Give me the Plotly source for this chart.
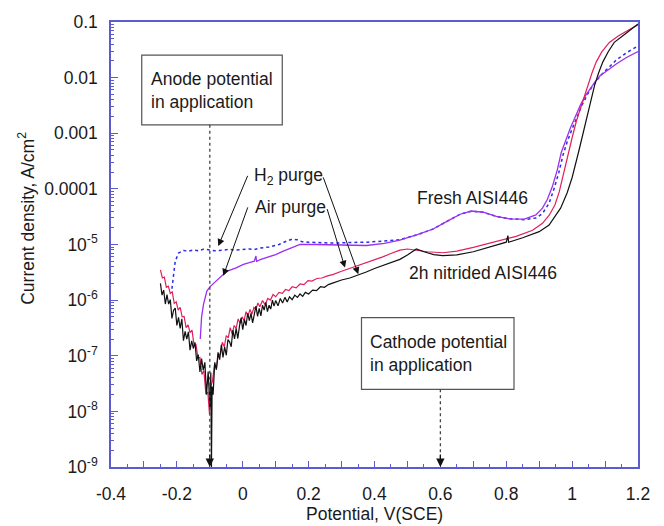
import plotly.graph_objects as go

# ---------------- data ----------------
# Fresh AISI446, H2 purge (blue dotted)
fresh_h2_x = [-0.215, -0.21, -0.205, -0.195, -0.18, -0.165, -0.15, -0.135, -0.12, -0.1, -0.085,
              -0.07, -0.055, -0.04, -0.025, -0.01, 0.005, 0.02, 0.035, 0.05, 0.065, 0.08, 0.095,
              0.11, 0.125, 0.135, 0.15, 0.165, 0.18, 0.2, 0.22, 0.25, 0.275, 0.3, 0.33, 0.355,
              0.38, 0.405, 0.43, 0.455, 0.477, 0.53, 0.578, 0.62, 0.66, 0.694, 0.73, 0.77, 0.81,
              0.855, 0.89, 0.91, 0.93, 0.945, 0.96, 0.972, 0.985, 1.0, 1.015, 1.03, 1.045, 1.06,
              1.075, 1.09, 1.11, 1.135, 1.165, 1.2]
fresh_h2_y = [1.6e-6, 3.0e-6, 5.0e-6, 7.0e-6, 7.8e-6, 7.6e-6, 8.0e-6, 7.7e-6, 8.2e-6, 8.0e-6, 7.7e-6,
              7.8e-6, 8.1e-6, 8.2e-6, 7.9e-6, 8.0e-6, 8.2e-6, 8.3e-6, 8.1e-6, 8.6e-6, 8.8e-6, 9.0e-6, 9.5e-6,
              1.0e-5, 1.1e-5, 1.15e-5, 1.25e-5, 1.22e-5, 1.12e-5, 1.1e-5, 1.08e-5, 1.07e-5, 1.06e-5, 1.08e-5, 1.08e-5, 1.1e-5,
              1.1e-5, 1.13e-5, 1.15e-5, 1.18e-5, 1.22e-5, 1.5e-5, 1.9e-5, 2.6e-5, 3.5e-5, 3.95e-5, 3.8e-5, 3.2e-5, 2.9e-5,
              2.8e-5, 3.0e-5, 3.6e-5, 5.5e-5, 1.0e-4, 2.0e-4, 4.0e-4, 7.0e-4, 1.2e-3, 2.0e-3, 3.2e-3, 4.8e-3, 6.8e-3,
              9.0e-3, 1.15e-2, 1.5e-2, 2.1e-2, 2.8e-2, 3.7e-2]

# Fresh AISI446, air purge (purple)
fresh_air_x = [-0.129, -0.125, -0.119, -0.109, -0.099, -0.089, -0.07, -0.049, -0.02, 0.002, 0.02,
               0.035, 0.04, 0.042, 0.055, 0.073, 0.1, 0.123, 0.15, 0.174, 0.22, 0.275, 0.33, 0.376,
               0.43, 0.477, 0.53, 0.578, 0.62, 0.66, 0.694, 0.73, 0.77, 0.81, 0.855, 0.89, 0.91,
               0.925, 0.94, 0.955, 0.967, 0.98, 0.995, 1.01, 1.025, 1.04, 1.055, 1.07, 1.085, 1.11,
               1.135, 1.165, 1.2]
fresh_air_y = [2.0e-7, 5.0e-7, 8.5e-7, 1.45e-6, 1.75e-6, 2.0e-6, 2.5e-6, 3.3e-6, 3.8e-6, 4.4e-6, 4.7e-6,
               5.0e-6, 6.2e-6, 5.0e-6, 5.4e-6, 5.8e-6, 6.6e-6, 7.6e-6, 8.8e-6, 1.0e-5, 1.0e-5, 9.8e-6, 9.6e-6, 9.6e-6,
               1.05e-5, 1.2e-5, 1.5e-5, 1.9e-5, 2.6e-5, 3.5e-5, 4.0e-5, 3.8e-5, 3.2e-5, 2.9e-5, 2.85e-5, 3.4e-5, 4.5e-5,
               6.5e-5, 1.1e-4, 2.2e-4, 4.5e-4, 7.5e-4, 1.25e-3, 2.0e-3, 3.2e-3, 4.7e-3, 6.5e-3, 8.5e-3, 1.08e-2, 1.4e-2,
               1.78e-2, 2.3e-2, 2.95e-2]

# 2h nitrided AISI446, air purge (red)
nitr_air_x = [-0.25, -0.244, -0.238, -0.232, -0.226, -0.22, -0.214, -0.208, -0.202, -0.196, -0.19,
              -0.184, -0.178, -0.172, -0.166, -0.16, -0.154, -0.148, -0.142, -0.136, -0.13, -0.124,
              -0.118, -0.112, -0.106, -0.101, -0.097, -0.092, -0.086, -0.08, -0.074, -0.068, -0.062,
              -0.056, -0.05, -0.044, -0.038, -0.032, -0.026, -0.02, -0.014, -0.008, -0.002, 0.004,
              0.01, 0.016, 0.022, 0.028, 0.034, 0.04, 0.046, 0.052, 0.06, 0.068, 0.076, 0.084, 0.092,
              0.1, 0.11, 0.12, 0.13, 0.14, 0.15, 0.162, 0.174, 0.186, 0.198, 0.21, 0.225, 0.24, 0.255,
              0.275, 0.3, 0.325, 0.35, 0.375, 0.4, 0.425, 0.45, 0.477, 0.5, 0.53, 0.56, 0.608, 0.65,
              0.7, 0.75, 0.78, 0.83, 0.88, 0.91, 0.931, 0.948, 0.961, 0.975, 0.988, 1.0, 1.013, 1.03,
              1.047, 1.06, 1.073, 1.09, 1.113, 1.14, 1.17, 1.2]
nitr_air_y = [3.5e-6, 2.5e-6, 2.6e-6, 1.7e-6, 1.78e-6, 1.32e-6, 1.41e-6, 8.7e-7, 9.3e-7, 6.6e-7, 7.4e-7,
              5.0e-7, 5.1e-7, 3.2e-7, 3.6e-7, 2.6e-7, 2.9e-7, 1.55e-7, 1.58e-7, 9.1e-8, 9.3e-8, 4.6e-8,
              5.4e-8, 2.1e-8, 2.2e-8, 8.9e-9, 2.8e-8, 3.5e-8, 6.8e-8, 5.9e-8, 1.07e-7, 1.05e-7, 1.74e-7,
              1.45e-7, 2.3e-7, 2.1e-7, 3.2e-7, 2.45e-7, 3.5e-7, 3.1e-7, 4.6e-7, 3.8e-7, 5.0e-7, 4.3e-7,
              6.2e-7, 5.2e-7, 6.8e-7, 5.6e-7, 7.4e-7, 6.8e-7, 8.9e-7, 7.6e-7, 9.8e-7, 8.3e-7, 1.07e-6, 1.0e-6, 1.26e-6,
              1.15e-6, 1.38e-6, 1.32e-6, 1.55e-6, 1.48e-6, 1.74e-6, 1.66e-6, 1.95e-6, 1.9e-6, 2.24e-6, 2.2e-6, 2.45e-6, 2.5e-6, 2.7e-6,
              2.9e-6, 3.3e-6, 3.7e-6, 4.2e-6, 4.7e-6, 5.2e-6, 6.0e-6, 6.9e-6, 7.9e-6, 8.3e-6, 7.9e-6, 7.4e-6, 7.1e-6, 7.6e-6,
              8.9e-6, 1.05e-5, 1.15e-5, 1.4e-5, 1.8e-5, 2.4e-5, 3.4e-5, 5.2e-5, 8.9e-5, 2.0e-4, 4.7e-4, 8.3e-4, 1.66e-3, 3.5e-3,
              7.2e-3, 1.2e-2, 1.9e-2, 2.9e-2, 4.3e-2, 5.6e-2, 7.1e-2, 8.9e-2]

# 2h nitrided AISI446, H2 purge (black)
nitr_h2_x = [-0.25, -0.245, -0.24, -0.235, -0.23, -0.225, -0.22, -0.215, -0.21, -0.205, -0.2,
             -0.195, -0.19, -0.185, -0.18, -0.175, -0.17, -0.165, -0.16, -0.155, -0.15, -0.145,
             -0.14, -0.135, -0.13, -0.125, -0.12, -0.115, -0.11, -0.105, -0.1, -0.097, -0.095,
             -0.093, -0.09, -0.085, -0.08, -0.075, -0.07, -0.065, -0.06, -0.055, -0.05, -0.045,
             -0.04, -0.035, -0.03, -0.025, -0.02, -0.015, -0.01, -0.005, 0.0, 0.005, 0.01, 0.015,
             0.02, 0.025, 0.03, 0.035, 0.04, 0.045, 0.05, 0.055, 0.06, 0.065, 0.07, 0.075, 0.08,
             0.085, 0.09, 0.095, 0.1, 0.107, 0.114, 0.121, 0.128, 0.135, 0.142, 0.15, 0.158, 0.166,
             0.174, 0.182, 0.19, 0.2, 0.212, 0.224, 0.236, 0.248, 0.26, 0.275, 0.3, 0.325, 0.35,
             0.375, 0.4, 0.425, 0.45, 0.477, 0.5, 0.527, 0.55, 0.58, 0.607, 0.65, 0.7, 0.75, 0.8,
             0.805, 0.807, 0.85, 0.9, 0.93, 0.965, 0.985, 1.0, 1.02, 1.043, 1.055, 1.068, 1.08,
             1.093, 1.11, 1.128, 1.16, 1.2]
nitr_h2_y = [2.0e-6, 1.23e-6, 1.51e-6, 8.5e-7, 1.26e-6, 8.5e-7, 1.02e-6, 4.7e-7, 6.6e-7, 7.2e-7, 3.5e-7,
             4.9e-7, 3.1e-7, 4.6e-7, 1.86e-7, 2.75e-7, 2.0e-7, 2.7e-7, 1.26e-7, 1.86e-7, 1.35e-7, 1.74e-7,
             8.1e-8, 1.05e-7, 5.1e-8, 8.9e-8, 5.5e-8, 7.6e-8, 2.0e-8, 5.2e-8, 1.2e-8, 5.0e-8, 1.0e-9,
             2.8e-8, 2.0e-8, 7.6e-8, 5.6e-8, 1.15e-7, 8.5e-8, 1.58e-7, 9.3e-8, 1.45e-7, 1.02e-7, 1.95e-7,
             1.78e-7, 1.45e-7, 2.9e-7, 2.0e-7, 3.1e-7, 2.04e-7, 3.4e-7, 4.8e-7, 2.95e-7, 4.5e-7, 3.5e-7, 5.8e-7,
             4.3e-7, 5.8e-7, 3.9e-7, 5.9e-7, 7.8e-7, 5.1e-7, 7.1e-7, 5.2e-7, 8.1e-7, 6.6e-7, 9.1e-7, 6.2e-7, 8.1e-7,
             6.9e-7, 1.0e-6, 7.8e-7, 9.8e-7, 7.9e-7, 1.07e-6, 8.9e-7, 1.12e-6, 9.3e-7, 1.15e-6, 1.02e-6, 1.23e-6, 1.12e-6,
             1.29e-6, 1.17e-6, 1.38e-6, 1.29e-6, 1.51e-6, 1.48e-6, 1.74e-6, 1.7e-6, 1.9e-6, 2.04e-6, 2.3e-6, 2.5e-6, 2.8e-6,
             3.2e-6, 3.7e-6, 4.2e-6, 4.8e-6, 5.4e-6, 6.5e-6, 8.3e-6, 7.4e-6, 6.6e-6, 6.3e-6, 6.5e-6, 7.4e-6, 8.9e-6, 1.1e-5,
             1.45e-5, 1.1e-5, 1.32e-5, 1.7e-5, 2.24e-5, 4.5e-5, 8.5e-5, 1.6e-4, 4.7e-4, 1.8e-3, 3.8e-3, 7.2e-3, 1.2e-2,
             1.9e-2, 2.95e-2, 4.3e-2, 6.0e-2, 9.2e-2]

x_tick_vals = [-0.4, -0.3, -0.2, -0.1, 0.0, 0.1, 0.2, 0.3, 0.4, 0.5, 0.6, 0.7, 0.8, 0.9, 1.0, 1.1, 1.2]
x_tick_text = ["-0.4", "", "-0.2", "", "0", "", "0.2", "", "0.4", "", "0.6", "", "0.8", "", "1", "", "1.2"]
x_minor_vals = [-0.35, -0.25, -0.15, -0.05, 0.05, 0.15, 0.25, 0.35, 0.45, 0.55, 0.65, 0.75, 0.85, 0.95, 1.05, 1.15]
y_tick_vals = [1e-9, 1e-8, 1e-7, 1e-6, 1e-5, 1e-4, 1e-3, 1e-2, 1e-1]
y_tick_text = ["10<sup>-9</sup>", "10<sup>-8</sup>", "10<sup>-7</sup>", "10<sup>-6</sup>", "10<sup>-5</sup>",
               "0.0001", "0.001", "0.01", "0.1"]

# ---------------- figure ----------------
FONT = "Liberation Sans, Arial, Helvetica, sans-serif"
FS = 17.5
AXIS_COLOR = "#5c5cd0"
y_minor_vals = [m * d for d in y_tick_vals[:-1] for m in range(2, 10)]

fig = go.Figure()
fig.add_trace(go.Scatter(x=fresh_h2_x, y=fresh_h2_y, mode="lines",
                         line=dict(color="#2b2be6", width=1.5, dash="dot"), name="Fresh, H2 purge"))
fig.add_trace(go.Scatter(x=fresh_air_x, y=fresh_air_y, mode="lines",
                         line=dict(color="#9b30f0", width=1.3), name="Fresh, air purge"))
fig.add_trace(go.Scatter(x=nitr_air_x, y=nitr_air_y, mode="lines",
                         line=dict(color="#e0205a", width=1.2), name="Nitrided, air purge"))
fig.add_trace(go.Scatter(x=nitr_h2_x, y=nitr_h2_y, mode="lines",
                         line=dict(color="#111111", width=1.2), name="Nitrided, H2 purge"))

fig.update_layout(
    width=664, height=526,
    margin=dict(l=111, r=26, t=20, b=59),
    paper_bgcolor="white", plot_bgcolor="white",
    showlegend=False,
    font=dict(family=FONT, size=FS, color="#1a1a1a"),
)
fig.update_xaxes(
    range=[-0.4, 1.2], tickmode="array", tickvals=x_tick_vals, ticktext=x_tick_text,
    ticks="inside", ticklen=6, tickwidth=1, tickcolor=AXIS_COLOR,
    minor=dict(tickmode="array", tickvals=x_minor_vals, ticks="inside", ticklen=3,
               tickcolor=AXIS_COLOR, showgrid=False),
    showline=True, linecolor=AXIS_COLOR, linewidth=1.5, mirror=True,
    showgrid=False, zeroline=False, ticklabelstandoff=10,
    tickfont=dict(family=FONT, size=FS, color="#1a1a1a"),
)
fig.update_yaxes(
    type="log", range=[-9, -1], tickmode="array", tickvals=y_tick_vals, ticktext=y_tick_text,
    ticks="inside", ticklen=7, tickwidth=1, tickcolor=AXIS_COLOR,
    minor=dict(tickmode="array", tickvals=y_minor_vals, ticks="inside", ticklen=3,
               tickcolor=AXIS_COLOR, showgrid=False),
    showline=True, linecolor=AXIS_COLOR, linewidth=1.5, mirror=True,
    showgrid=False, zeroline=False, ticklabelstandoff=8,
    tickfont=dict(family=FONT, size=FS, color="#1a1a1a"),
)

# boxes
box_style = dict(type="rect", xref="paper", yref="paper", line=dict(color="#555555", width=1.2),
                 fillcolor="white", layer="above")
fig.add_shape(x0=0.0583, x1=0.325, y0=0.769, y1=0.9255, **box_style)
fig.add_shape(x0=0.4753, x1=0.7647, y0=0.1745, y1=0.3356, **box_style)

# dotted leader lines
fig.add_shape(type="line", xref="x", yref="paper", x0=-0.1, x1=-0.1, y0=0.769, y1=0.02,
              line=dict(color="#444444", width=1.3, dash="dot"))
fig.add_shape(type="line", xref="x", yref="paper", x0=0.6, x1=0.6, y0=0.1745, y1=0.02,
              line=dict(color="#444444", width=1.3, dash="dot"))

ann = []
TXT = dict(family=FONT, size=FS, color="#1a1a1a")
# arrowheads at the axis
for xv in (-0.1, 0.6):
    ann.append(dict(x=xv, y=0, xref="x", yref="paper", ax=0, ay=-14, showarrow=True, text="",
                    arrowhead=2, arrowsize=1.4, arrowwidth=1.2, arrowcolor="#111111"))
# box texts
ann.append(dict(x=0.0727, y=0.845, xref="paper", yref="paper", xanchor="left", yanchor="middle",
                align="left", showarrow=False, text="Anode potential<br>in application", font=TXT))
ann.append(dict(x=0.4877, y=0.255, xref="paper", yref="paper", xanchor="left", yanchor="middle",
                align="left", showarrow=False, text="Cathode potential<br>in application", font=TXT))
# purge labels
ann.append(dict(x=0.267, y=0.653, xref="paper", yref="paper", xanchor="left", yanchor="middle",
                showarrow=False, text="H<sub>2</sub> purge", font=TXT))
ann.append(dict(x=0.269, y=0.585, xref="paper", yref="paper", xanchor="left", yanchor="middle",
                showarrow=False, text="Air purge", font=TXT))
# purge arrows
for (tx, ty, axp, ayp) in [(0.2036, 0.4966, 30, -71.7), (0.2131, 0.4295, 25, -70),
                           (0.4693, 0.4333, -35.6, -98.3), (0.444, 0.4481, -18.3, -60)]:
    ann.append(dict(x=tx, y=ty, xref="paper", yref="paper", ax=axp, ay=ayp, showarrow=True, text="",
                    arrowhead=2, arrowsize=1.4, arrowwidth=1, arrowcolor="#111111"))
# series labels
ann.append(dict(x=0.577, y=0.6047, xref="paper", yref="paper", xanchor="left", yanchor="middle",
                showarrow=False, text="Fresh AISI446", font=TXT))
ann.append(dict(x=0.561, y=0.437, xref="paper", yref="paper", xanchor="left", yanchor="middle",
                showarrow=False, text="2h nitrided AISI446", font=TXT))
# axis titles
ann.append(dict(x=0.5, y=-0.106, xref="paper", yref="paper", xanchor="center", yanchor="middle",
                showarrow=False, text="Potential, V(SCE)", font=TXT))
ann.append(dict(x=-0.1613, y=0.56, xref="paper", yref="paper", xanchor="center", yanchor="middle",
                showarrow=False, textangle=-90, text="Current density, A/cm<sup>2</sup>", font=TXT))
fig.update_layout(annotations=ann)

fig.write_html("out.html", config={"displayModeBar": False},
               post_script="document.body.style.margin='0px';")
